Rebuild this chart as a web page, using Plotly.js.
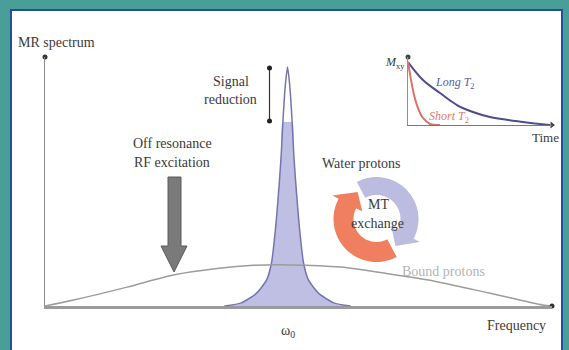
<!DOCTYPE html>
<html><head><meta charset="utf-8">
<script src="https://cdn.plot.ly/plotly-3.0.1.min.js"></script>
<style>html,body{margin:0;padding:0;background:#4a9e98;} #chart{width:569px;height:350px;}</style>
</head><body><div id="chart"></div>
<script>
// ---- data ----
// free-water peak (frequency offset from omega0, arbitrary units; intensity normalised to peak)
const peakFreq = [-2.6,-1.9,-1.27,-0.86,-0.66,-0.5,-0.33,-0.26,-0.19,-0.1,0,0.1,0.19,0.26,0.33,0.5,0.66,0.86,1.27,1.9,2.6];
const peakIntensity = [0,0.013,0.054,0.109,0.18,0.318,0.527,0.632,0.77,0.912,1,0.912,0.77,0.632,0.527,0.318,0.18,0.109,0.054,0.013,0];
// reduced (saturated) free-water signal
const reducedFreq = [-2.6,-1.9,-1.27,-0.86,-0.66,-0.5,-0.33,-0.26,-0.2,0,0.2,0.26,0.33,0.5,0.66,0.86,1.27,1.9,2.6];
const reducedIntensity = [0,0.013,0.054,0.109,0.18,0.318,0.527,0.632,0.77,0.77,0.77,0.632,0.527,0.318,0.18,0.109,0.054,0.013,0];
// broad bound-proton line
const boundFreq = [-9.98,-8.8,-6.6,-4.7,-2.9,-1.4,0.1,2.2,4.2,5.8,8.3,10.5,10.88];
const boundIntensity = [0,0.025,0.079,0.13,0.157,0.17,0.172,0.163,0.134,0.109,0.054,0.004,0];
// inset: transverse magnetisation decay
const longT2Time = [0,1.04,2.22,3.4,4.51,5.69,7.99,9.86];
const longT2M = [1,0.714,0.508,0.317,0.206,0.127,0.048,0];
const shortT2Time = [0,0.21,0.42,0.69,1.04,1.53,2.22];
const shortT2M = [1,0.714,0.476,0.27,0.111,0.016,0];

// ---- geometry helpers (pixel -> axis / paper) ----
const L=45, R=552, T=57, B=306;
const FX0=-9.98, FX1=10.884, IY1=1.0418;
const pxX = p => FX0 + (p-L)/(R-L)*(FX1-FX0);
const pxY = p => (B-p)/(B-T)*IY1;
const paperX = p => (p-L)/(R-L);
const paperY = p => (B-p)/(B-T);
function pathPx(pts){ return pts.map((q,i)=>(i?'L':'M')+pxX(q[0]).toFixed(4)+','+pxY(q[1]).toFixed(4)).join(' ')+' Z'; }
function arcArrow(cx,cy,rIn,rOut,a0,a1,tipA,hw){
  const pts=[]; const rad=a=>a*Math.PI/180; const step=(a1<a0)?-4:4;
  const P=(r,a)=>[cx+r*Math.cos(rad(a)), cy-r*Math.sin(rad(a))];
  for(let a=a0;(step<0?a>a1:a<a1);a+=step) pts.push(P(rOut,a));
  pts.push(P(rOut,a1)); pts.push(P(rOut+hw,a1)); pts.push(P((rIn+rOut)/2,tipA)); pts.push(P(rIn-hw,a1)); pts.push(P(rIn,a1));
  for(let a=a1;(step<0?a<a0:a>a0);a-=step) pts.push(P(rIn,a));
  pts.push(P(rIn,a0));
  return pathPx(pts);
}

const serif = '"Liberation Serif", "DejaVu Serif", serif';
const txt = '#3a3a3a';
function ann(text,xp,yp,opt){ return Object.assign({text:text,x:paperX(xp),y:paperY(yp),xref:'paper',yref:'paper',showarrow:false,xanchor:'center',yanchor:'middle',font:{family:serif,size:14,color:txt}},opt||{}); }

const traces = [
  {x:reducedFreq,y:reducedIntensity,type:'scatter',mode:'lines',line:{width:0,shape:'spline',smoothing:0.6},fill:'tozeroy',fillcolor:'#bfbfe3',hoverinfo:'skip',xaxis:'x',yaxis:'y'},
  {x:peakFreq,y:peakIntensity,type:'scatter',mode:'lines',line:{color:'#7474ae',width:1.5,shape:'spline',smoothing:0.6},hoverinfo:'skip',xaxis:'x',yaxis:'y'},
  {x:boundFreq,y:boundIntensity,type:'scatter',mode:'lines',line:{color:'#9c9c9c',width:1.5,shape:'spline',smoothing:0.8},hoverinfo:'skip',xaxis:'x',yaxis:'y'},
  // signal reduction marker
  {x:[pxX(269.5),pxX(269.5)],y:[Math.max(...peakIntensity)-0.004,Math.max(...reducedIntensity)+0.004],type:'scatter',mode:'lines+markers',line:{color:'#333',width:1.2},marker:{color:'#222',size:5},cliponaxis:false,hoverinfo:'skip',xaxis:'x',yaxis:'y'},
  // axis end dots
  {x:[FX0,FX1],y:[IY1,0],type:'scatter',mode:'markers',marker:{color:'#333',size:5},cliponaxis:false,hoverinfo:'skip',xaxis:'x',yaxis:'y'},
  // inset
  {x:longT2Time,y:longT2M,type:'scatter',mode:'lines',line:{color:'#4c4c8e',width:2,shape:'spline'},hoverinfo:'skip',xaxis:'x2',yaxis:'y2'},
  {x:shortT2Time,y:shortT2M,type:'scatter',mode:'lines',line:{color:'#d8726a',width:2,shape:'spline'},hoverinfo:'skip',xaxis:'x2',yaxis:'y2'},
  {x:[0],y:[1.079],type:'scatter',mode:'markers',marker:{color:'#444',size:5},cliponaxis:false,hoverinfo:'skip',xaxis:'x2',yaxis:'y2'},
  {x:[10],y:[0],type:'scatter',mode:'markers',marker:{color:'#444',size:6,symbol:'triangle-right'},cliponaxis:false,hoverinfo:'skip',xaxis:'x2',yaxis:'y2'}
];

const noAx = {showgrid:false,zeroline:false,showticklabels:false,ticks:'',fixedrange:true};
const layout = {
  width:569,height:350,margin:{l:L,r:569-R,t:T,b:350-B},
  font:{family:serif},
  paper_bgcolor:'#4a9e98',plot_bgcolor:'rgba(0,0,0,0)',showlegend:false,
  xaxis:Object.assign({domain:[0,1],range:[FX0,FX1],showline:true,linecolor:'#9a9a9a',linewidth:2.5},noAx),
  yaxis:Object.assign({domain:[0,1],range:[0,IY1],showline:true,linecolor:'#8a8a8a',linewidth:1.5},noAx),
  xaxis2:Object.assign({domain:[0.716,1],range:[0,10],anchor:'y2',showline:true,linecolor:'#777',linewidth:1.5},noAx),
  yaxis2:Object.assign({domain:[0.727,1],range:[0,1.079],anchor:'x2',showline:true,linecolor:'#7c9c88',linewidth:1.5},noAx),
  shapes:[
    {type:'rect',xref:'paper',yref:'paper',x0:paperX(11),x1:paperX(562),y0:paperY(10),y1:paperY(362),fillcolor:'#ffffff',line:{color:'#1f4f9e',width:2},layer:'below'},
    {type:'path',xref:'x',yref:'y',path:pathPx([[168,177],[181,177],[181,246],[187,246],[174,272],[161,246],[168,246]]),fillcolor:'#7a7a7a',line:{color:'#5a5a5a',width:1}},
    {type:'path',xref:'x',yref:'y',path:arcArrow(376.5,219,24,42,118,-28,-55,7),fillcolor:'#bcbce0',line:{width:0}},
    {type:'path',xref:'x',yref:'y',path:arcArrow(376.5,219,23,43,-62,-208,-235,7),fillcolor:'#f07f60',line:{width:0}}
  ],
  annotations:[
    ann('MR spectrum',56,43),
    ann('Frequency',516,325),
    ann('ω<sub>0</sub>',288,331),
    ann('Signal',231,81),
    ann('reduction',230,99),
    ann('Off resonance',172,143),
    ann('RF excitation',172,162),
    ann('Water protons',361,163),
    ann('MT',378,204),
    ann('exchange',377,223),
    ann('Bound protons',443,271,{font:{family:serif,size:14,color:'#b4b4b4'}}),
    ann('<i>M</i><sub>xy</sub>',395,63,{font:{family:serif,size:12,color:txt}}),
    ann('<i>Long T</i><sub>2</sub>',455,83,{font:{family:serif,size:12,color:'#5c5ca8'}}),
    ann('<i>Short T</i><sub>2</sub>',449,117,{font:{family:serif,size:12,color:'#e07a6a'}}),
    ann('Time',545,137,{font:{family:serif,size:13,color:txt}})
  ]
};
Plotly.newPlot('chart',traces,layout,{staticPlot:true,displayModeBar:false});
</script></body></html>
